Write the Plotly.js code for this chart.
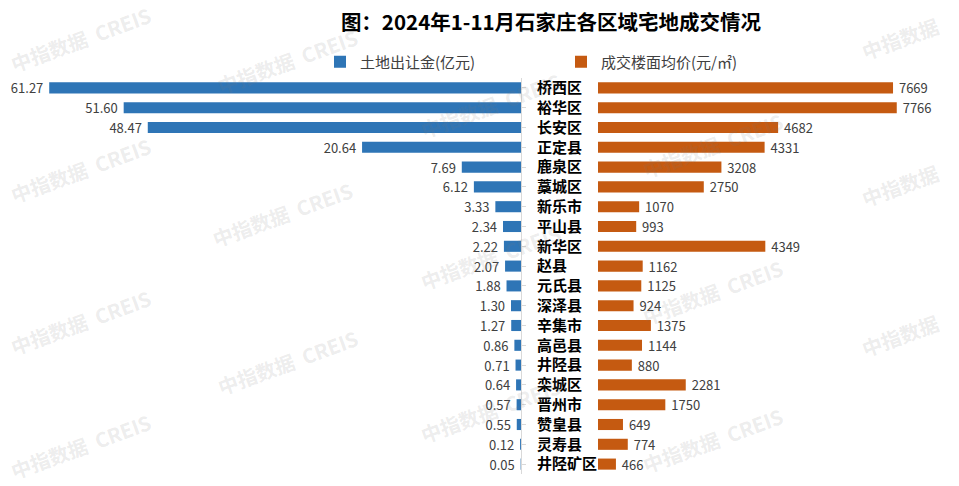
<!DOCTYPE html>
<html>
<head>
<meta charset="utf-8">
<script src="https://cdn.plot.ly/plotly-3.0.1.min.js"></script>
<style>html,body{margin:0;padding:0;background:#fff;}#chart{width:959px;height:486px;}</style>
</head>
<body>
<div id="chart"></div>
<script>
const categories = ['桥西区','裕华区','长安区','正定县','鹿泉区','藁城区','新乐市','平山县','新华区','赵县','元氏县','深泽县','辛集市','高邑县','井陉县','栾城区','晋州市','赞皇县','灵寿县','井陉矿区'];
const landRevenue = [61.27,51.60,48.47,20.64,7.69,6.12,3.33,2.34,2.22,2.07,1.88,1.30,1.27,0.86,0.71,0.64,0.57,0.55,0.12,0.05];
const floorPrice = [7669,7766,4682,4331,3208,2750,1070,993,4349,1162,1125,924,1375,1144,880,2281,1750,649,774,466];
const seriesNames = ['土地出让金(亿元)','成交楼面均价(元/㎡)'];
const chartTitle = '图：2024年1-11月石家庄各区域宅地成交情况';
const watermarkFull = '中指数据  CREIS';
const watermarkShort = '中指数据';

const W = 959, H = 486, T = 78, B = 12;
const plotH = H - T - B;
const px = x => x / W;
const py = y => (H - B - y) / plotH;

const FONT = "'Noto Sans CJK SC', 'Noto Sans', sans-serif";

// watermark centres (pixel positions) and which text
const wmPos = [[80,39,0],[287,62,0],[490,105,0],[712,145,0],[900,38,1],
               [80,170,0],[282,215,0],[490,257,0],[712,292,0],[900,185,1],
               [80,322,0],[287,362,0],[490,410,0],[712,440,0],[900,335,1],
               [80,446,0]];
const annotations = wmPos.map(p => ({
  text: p[2] ? watermarkShort : watermarkFull, x: px(p[0]), y: py(p[1]), xref: 'paper', yref: 'paper',
  showarrow: false, textangle: -20, xanchor: 'center', yanchor: 'middle',
  font: {family: FONT, size: 20, color: 'rgba(120,120,120,0.15)', weight: 'bold'}
}));

const NB = '\u00a0';
const traces = [
  {
    type: 'bar', orientation: 'h', name: seriesNames[0],
    x: landRevenue, y: categories, xaxis: 'x', yaxis: 'y',
    marker: {color: '#2E75B6'}, width: 0.56,
    text: landRevenue.map(v => v.toFixed(2) + NB), textposition: 'outside',
    textfont: {family: FONT, size: 13, color: '#404040'},
    constraintext: 'none', cliponaxis: false, hoverinfo: 'x+y'
  },
  {
    type: 'bar', orientation: 'h', name: seriesNames[1],
    x: floorPrice, y: categories, xaxis: 'x2', yaxis: 'y',
    marker: {color: '#C55A11'}, width: 0.56,
    text: floorPrice.map(v => NB + String(v)), textposition: 'outside',
    textfont: {family: FONT, size: 13, color: '#404040'},
    constraintext: 'none', cliponaxis: false, hoverinfo: 'x+y'
  }
];

const layout = {
  width: W, height: H,
  margin: {l: 0, r: 0, t: T, b: B, pad: 0},
  paper_bgcolor: '#ffffff', plot_bgcolor: 'rgba(0,0,0,0)',
  font: {family: FONT, color: '#404040'},
  title: {
    text: chartTitle, x: px(551), xanchor: 'center', y: 1 - 23 / H, yanchor: 'middle',
    font: {family: FONT, size: 20.5, color: '#000000', weight: 'bold'}
  },
  showlegend: true,
  legend: {
    orientation: 'h', x: px(320), xanchor: 'left', y: py(62), yanchor: 'middle',
    font: {family: FONT, size: 15, color: '#404040'},
    entrywidth: 196, entrywidthmode: 'pixels', traceorder: 'normal',
    bgcolor: 'rgba(0,0,0,0)'
  },
  xaxis: {
    domain: [0, px(521)], range: [521 / 7.7, 0], showgrid: false, zeroline: false,
    showticklabels: false, showline: false, ticks: '', fixedrange: true
  },
  xaxis2: {
    domain: [px(598), 1], range: [0, 361 / 0.03847], showgrid: false, zeroline: false,
    showticklabels: false, showline: false, ticks: '', fixedrange: true, anchor: 'y'
  },
  yaxis: {
    type: 'category', autorange: 'reversed', anchor: 'x', side: 'right',
    showline: true, linecolor: '#d9d9d9', linewidth: 1,
    ticks: 'outside', ticklen: 4, tickcolor: '#d9d9d9',
    ticklabelstandoff: 8, showgrid: false, zeroline: false,
    tickfont: {family: FONT, size: 15, color: '#000000', weight: 'bold'}
  },
  bargap: 0.44,
  annotations: annotations
};

Plotly.newPlot('chart', traces, layout, {displayModeBar: false, staticPlot: true});
</script>
</body>
</html>
